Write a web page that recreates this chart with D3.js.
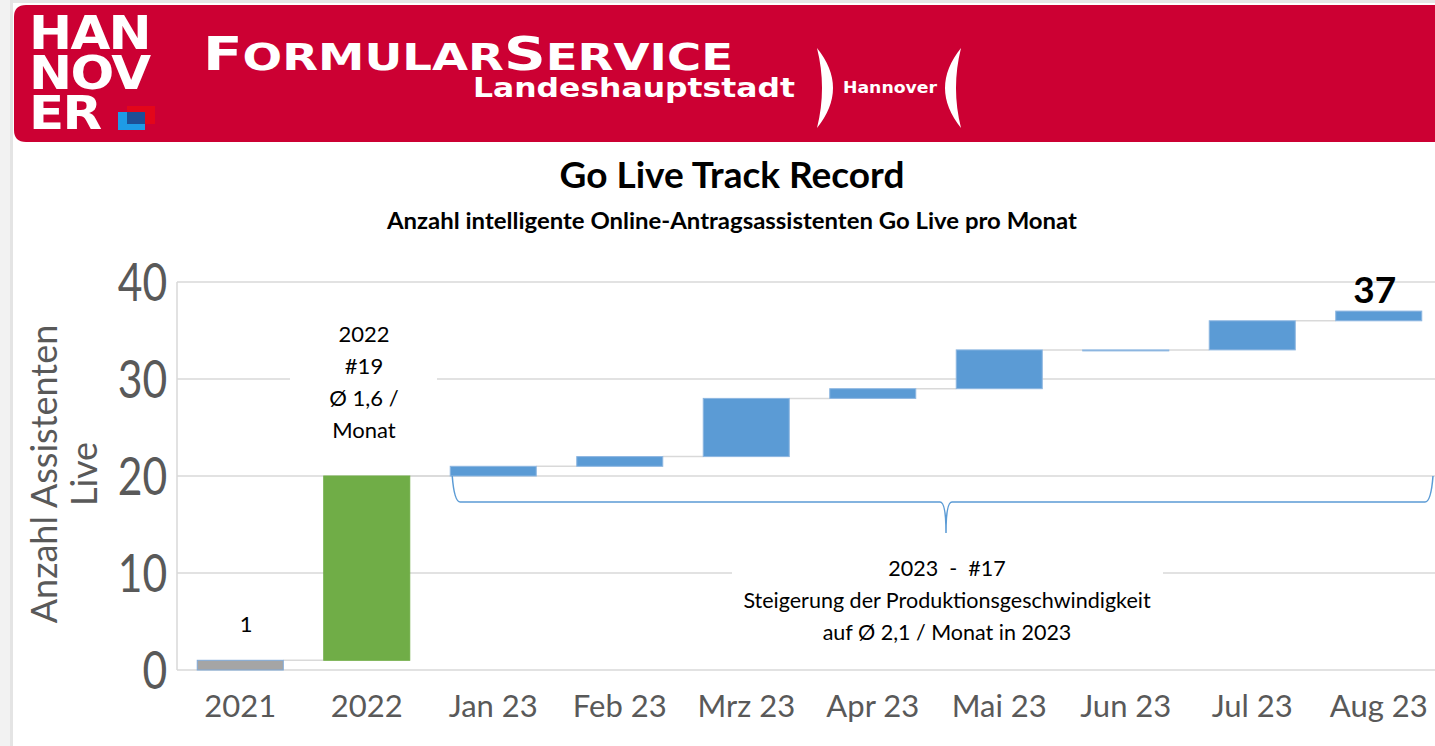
<!DOCTYPE html>
<html>
<head>
<meta charset="utf-8">
<script src="https://cdn.jsdelivr.net/npm/d3@7"></script>
<style>
  body { margin: 0; background: #fff; }
  svg { display: block; font-family: Lato, "Open Sans", sans-serif; }
</style>
</head>
<body>
<div id="chart-area"></div>
<script>
// Go Live Track Record - waterfall of live assistants per period
var categories = ["2021", "2022", "Jan 23", "Feb 23", "Mrz 23", "Apr 23", "Mai 23", "Jun 23", "Jul 23", "Aug 23"];
var increments = [1, 19, 1, 1, 6, 1, 4, 0, 3, 1];
var barKinds = ["start", "year", "month", "month", "month", "month", "month", "month", "month", "month"];
var yTicks = [0, 10, 20, 30, 40];

var svg = d3.select("#chart-area").append("svg")
    .attr("width", 1435)
    .attr("height", 746);

// page frame: grey strips at top and left
svg.append("rect").attr("x", 0).attr("y", 0).attr("width", 1435).attr("height", 3).attr("fill", "#e6e6e6");
svg.append("rect").attr("x", 0).attr("y", 0).attr("width", 12).attr("height", 746).attr("fill", "#f2f2f2");
svg.append("rect").attr("x", 10).attr("y", 0).attr("width", 3).attr("height", 746).attr("fill", "#e4e4e4");

// ---------- header banner ----------
var header = svg.append("g");
header.append("path")
    .attr("d", "M14,17 Q14,5 26,5 L1435,5 L1435,142 L26,142 Q14,142 14,130 Z")
    .attr("fill", "#cc0033");

header.append("clipPath").attr("id", "logoClip")
  .append("rect").attr("x", 20).attr("y", 8).attr("width", 135).attr("height", 130);

var logo = header.append("g").attr("clip-path", "url(#logoClip)");
["HAN", "NOV", "ER"].forEach(function(t, i) {
  logo.append("text")
      .attr("transform", "translate(29," + (49 + i * 40) + ") scale(1.12,1)")
      .attr("fill", "#fff")
      .attr("font-family", "'DejaVu Sans', sans-serif")
      .attr("font-weight", "bold")
      .attr("font-size", 46)
      .attr("letter-spacing", -1.5)
      .text(t);
});
header.append("rect").attr("x", 127).attr("y", 106).attr("width", 28).attr("height", 18).attr("fill", "#e3061a");
header.append("rect").attr("x", 118).attr("y", 112).attr("width", 27).attr("height", 18).attr("fill", "#1e9be6");
header.append("rect").attr("x", 127).attr("y", 112).attr("width", 18).attr("height", 12).attr("fill", "#1d4f96");

var fs = header.append("text")
    .attr("x", 203).attr("y", 70)
    .attr("fill", "#fff")
    .attr("font-family", "'DejaVu Sans', sans-serif")
    .attr("font-weight", "bold")
    .attr("textLength", 530)
    .attr("lengthAdjust", "spacingAndGlyphs");
fs.append("tspan").attr("font-size", 46).text("F");
fs.append("tspan").attr("font-size", 37).text("ORMULAR");
fs.append("tspan").attr("font-size", 46).text("S");
fs.append("tspan").attr("font-size", 37).text("ERVICE");

header.append("text")
    .attr("x", 473).attr("y", 97)
    .attr("fill", "#fff")
    .attr("font-family", "'DejaVu Sans', sans-serif")
    .attr("font-weight", "bold")
    .attr("font-size", 27)
    .attr("textLength", 322)
    .attr("lengthAdjust", "spacingAndGlyphs")
    .text("Landeshauptstadt");

header.append("path").attr("d", "M817,48 Q849,88 817,128 Q827,88 817,48 Z").attr("fill", "#fff");
header.append("path").attr("d", "M961,48 Q929,88 961,128 Q951,88 961,48 Z").attr("fill", "#fff");
header.append("text")
    .attr("x", 843).attr("y", 93)
    .attr("fill", "#fff")
    .attr("font-family", "'DejaVu Sans', sans-serif")
    .attr("font-weight", "bold")
    .attr("font-size", 15)
    .attr("textLength", 94)
    .attr("lengthAdjust", "spacingAndGlyphs")
    .text("Hannover");

// ---------- titles ----------
svg.append("text")
    .attr("x", 732).attr("y", 188)
    .attr("text-anchor", "middle")
    .attr("font-weight", "bold")
    .attr("font-size", 37)
    .attr("fill", "#000")
    .text("Go Live Track Record");

svg.append("text")
    .attr("x", 732).attr("y", 229)
    .attr("text-anchor", "middle")
    .attr("font-weight", "bold")
    .attr("font-size", 22)
    .attr("textLength", 690)
    .attr("lengthAdjust", "spacingAndGlyphs")
    .attr("fill", "#000")
    .text("Anzahl intelligente Online-Antragsassistenten Go Live pro Monat");

// ---------- chart ----------
var x = d3.scaleBand()
    .domain(categories)
    .range([177, 1442])
    .paddingInner(0.32)
    .paddingOuter(0.16);

var y = d3.scaleLinear()
    .domain([0, 40])
    .range([670, 282]);

// running totals
var total = 0;
var bars = categories.map(function(c, i) {
  var start = total;
  total += increments[i];
  return { cat: c, start: start, end: total, kind: barKinds[i] };
});

// gridlines
svg.append("g").selectAll("line")
    .data(yTicks)
  .enter().append("line")
    .attr("x1", 177).attr("x2", 1435)
    .attr("y1", function(d) { return y(d); })
    .attr("y2", function(d) { return y(d); })
    .attr("stroke", "#d9d9d9")
    .attr("stroke-width", 1.5);
svg.append("line")
    .attr("x1", 177).attr("x2", 177)
    .attr("y1", y(40)).attr("y2", y(0))
    .attr("stroke", "#d9d9d9")
    .attr("stroke-width", 1.5);

// white boxes behind the annotations (they cover the gridlines)
svg.append("rect").attr("x", 290).attr("y", 305).attr("width", 147).attr("height", 150).attr("fill", "#fff");
svg.append("rect").attr("x", 732).attr("y", 545).attr("width", 431).attr("height", 105).attr("fill", "#fff");

// connector lines between bars
svg.append("g").selectAll("line")
    .data(bars.slice(0, -1))
  .enter().append("line")
    .attr("x1", function(d) { return x(d.cat) + x.bandwidth(); })
    .attr("x2", function(d, i) { return x(categories[i + 1]); })
    .attr("y1", function(d) { return y(d.end); })
    .attr("y2", function(d) { return y(d.end); })
    .attr("stroke", "#d9d9d9")
    .attr("stroke-width", 1.5);

var fillColor = { start: "#a5a5a5", year: "#70ad47", month: "#5b9bd5" };
var strokeColor = { start: "#7fa9d8", year: "#70ad47", month: "#8db6e0" };

svg.append("g").selectAll("rect")
    .data(bars)
  .enter().append("rect")
    .attr("x", function(d) { return x(d.cat); })
    .attr("width", x.bandwidth())
    .attr("y", function(d) { return y(d.end); })
    .attr("height", function(d) { return Math.max(1, y(d.start) - y(d.end)); })
    .attr("fill", function(d) { return fillColor[d.kind]; })
    .attr("stroke", function(d) { return strokeColor[d.kind]; })
    .attr("stroke-width", 1);

// y axis labels
var yAxis = svg.append("g")
    .attr("transform", "translate(177,0)")
    .call(d3.axisLeft(y).tickValues(yTicks).tickSize(0).tickPadding(12));
yAxis.select(".domain").remove();
yAxis.selectAll("text")
    .attr("font-family", "Lato, sans-serif")
    .attr("font-size", 52)
    .attr("fill", "#595959")
    .attr("dy", "0.36em")
    .attr("transform", "scale(0.82,1)");

// x axis labels
var xAxis = svg.append("g")
    .attr("transform", "translate(0,670)")
    .call(d3.axisBottom(x).tickSize(0).tickPadding(25));
xAxis.select(".domain").remove();
xAxis.selectAll("text")
    .attr("font-family", "Lato, sans-serif")
    .attr("font-size", 31)
    .attr("fill", "#595959");

// y axis title
var yTitle = svg.append("text")
    .attr("transform", "translate(57,474) rotate(-90)")
    .attr("text-anchor", "middle")
    .attr("font-size", 36)
    .attr("fill", "#595959");
yTitle.append("tspan").attr("x", 0).attr("y", 0).text("Anzahl Assistenten");
yTitle.append("tspan").attr("x", 0).attr("y", 40).text("Live");

// value labels
svg.append("text")
    .attr("x", x("2021") + x.bandwidth() / 2 + 6)
    .attr("y", y(bars[0].end) - 28)
    .attr("text-anchor", "middle")
    .attr("font-size", 22)
    .attr("fill", "#000")
    .text("1");

svg.append("text")
    .attr("x", x("Aug 23") + x.bandwidth() / 2 - 4)
    .attr("y", y(total) - 8)
    .attr("text-anchor", "middle")
    .attr("font-weight", "bold")
    .attr("font-size", 37)
    .attr("fill", "#000")
    .text(total);

// annotations
var note2022 = ["2022", "#19", "Ø 1,6 /", "Monat"];
svg.append("g").selectAll("text")
    .data(note2022)
  .enter().append("text")
    .attr("x", 364)
    .attr("y", function(d, i) { return 342 + i * 32; })
    .attr("text-anchor", "middle")
    .attr("font-size", 22)
    .attr("fill", "#000")
    .text(function(d) { return d; });

var note2023 = ["2023  -  #17", "Steigerung der Produktionsgeschwindigkeit", "auf Ø 2,1 / Monat in 2023"];
svg.append("g").selectAll("text")
    .data(note2023)
  .enter().append("text")
    .attr("x", 947)
    .attr("y", function(d, i) { return 576 + i * 32; })
    .attr("text-anchor", "middle")
    .attr("font-size", 21.5)
    .attr("fill", "#000")
    .attr("xml:space", "preserve")
    .style("white-space", "pre")
    .text(function(d) { return d; });

// curly bracket under the 2023 months
var bx0 = x("Jan 23") + 2, bx1 = 1433, bmid = 946, by = y(20), bh = 502, btip = 533;
svg.append("path")
    .attr("d", "M" + bx0 + "," + by +
      " Q" + (bx0 + 2) + "," + bh + " " + (bx0 + 8) + "," + bh +
      " L" + (bmid - 6) + "," + bh +
      " Q" + bmid + "," + bh + " " + bmid + "," + btip +
      " Q" + bmid + "," + bh + " " + (bmid + 6) + "," + bh +
      " L" + (bx1 - 8) + "," + bh +
      " Q" + (bx1 - 2) + "," + bh + " " + bx1 + "," + by)
    .attr("fill", "none")
    .attr("stroke", "#5b9bd5")
    .attr("stroke-width", 1.5);
</script>
</body>
</html>
